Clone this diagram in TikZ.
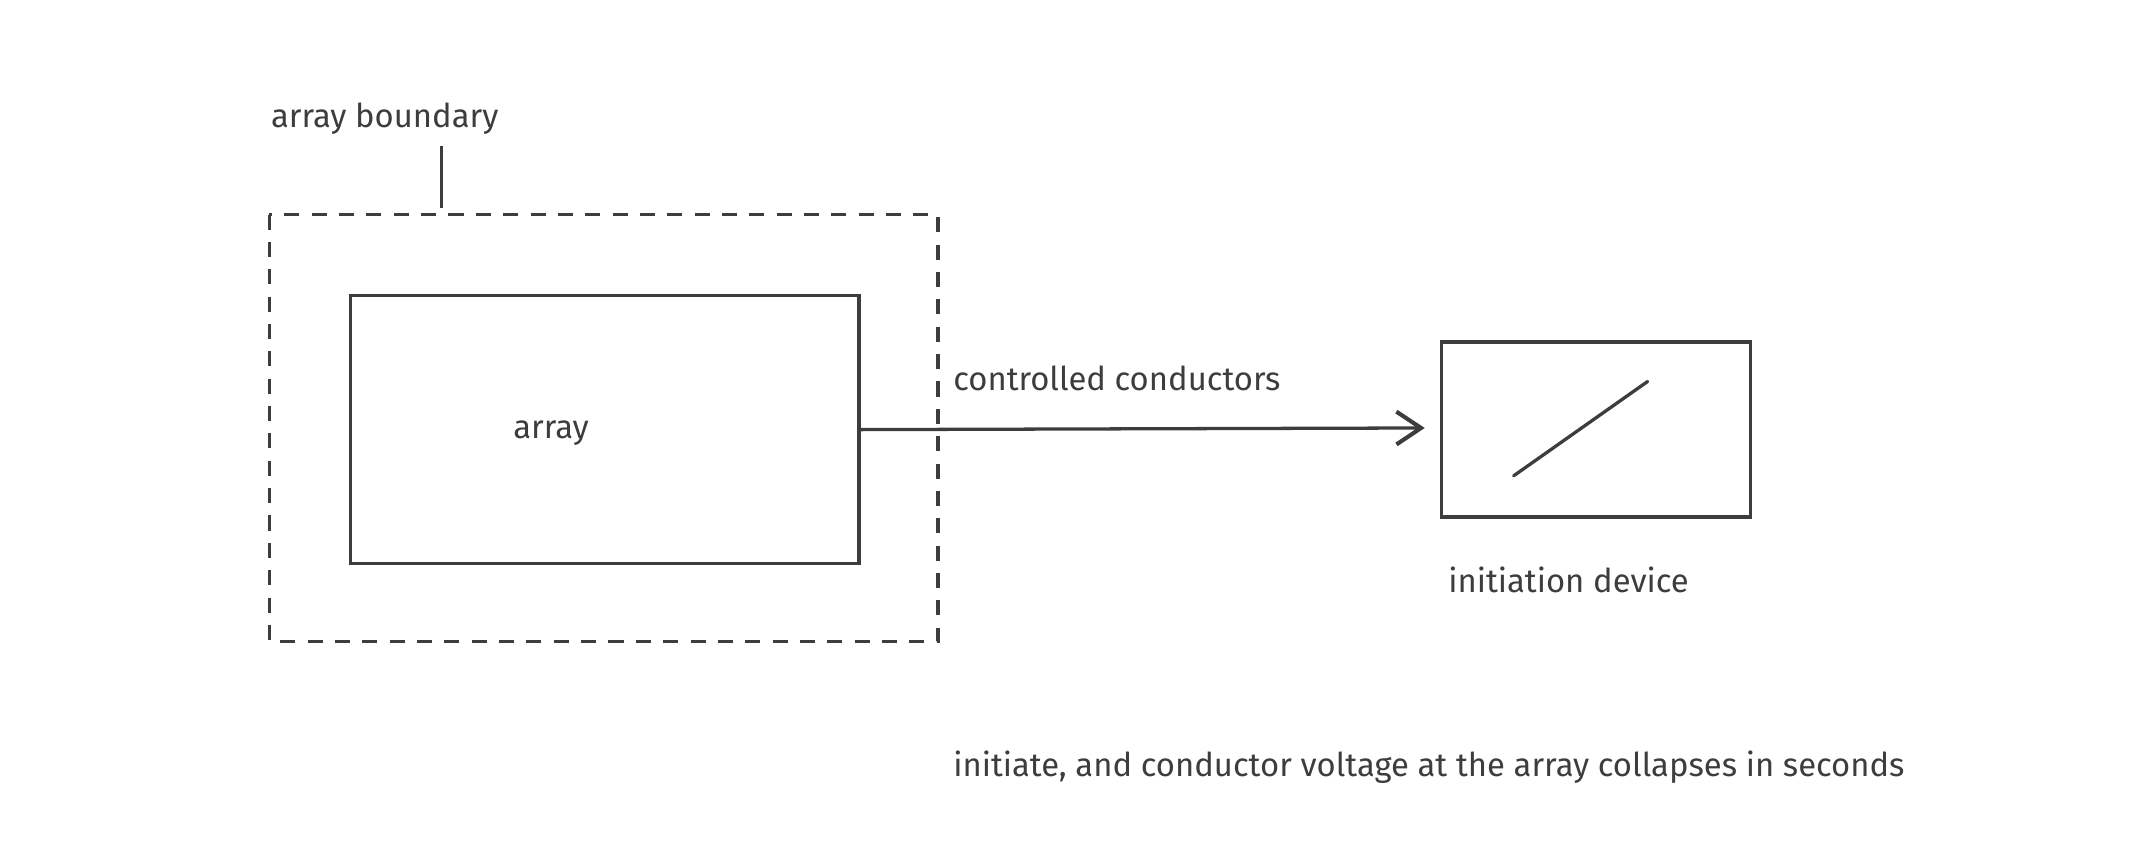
\documentclass[tikz,border=0pt]{standalone}
\usepackage{fontspec}
\setmainfont{Fira Sans}
\usetikzlibrary{arrows.meta}
\definecolor{ink}{HTML}{3D3D3F}
\begin{document}
\begin{tikzpicture}[x=1pt,y=-1pt,
  box/.style={draw=ink,line width=2.4pt},
  lbl/.style={text=ink,font=\fontsize{24}{28}\selectfont,inner sep=0pt},
  line width=2.4pt, ink]
\useasboundingbox (0,0) rectangle (1560,624);
\draw[box,dash pattern=on 11pt off 9pt] (197,157) rectangle (686,469);
\node[box,minimum width=372pt,minimum height=196pt,anchor=north west] (arr) at (255,215) {};
\node[lbl] at (403,317) {array};
\node[lbl,anchor=west] (ab) at (197,87) {array boundary};
\coordinate (t1) at (323,107); \coordinate (t2) at (323,152);
\draw[draw=ink] (t1) -- (t2);
\node[box,minimum width=226pt,minimum height=128pt,anchor=north west] (dev) at (1053,249) {};
\coordinate (end) at (1042,313);
\draw[draw=ink,-{Straight Barb[length=18pt,width=24pt,line width=3pt]}] (arr.east) -- (end);
\node[lbl,anchor=west] at (696,277) {controlled conductors};
\coordinate (d1) at (1107,348); \coordinate (d2) at (1205,279);
\draw[draw=ink,line cap=round] (d1) -- (d2);
\node[lbl,anchor=west] at (1058,424) {initiation device};
\node[lbl,anchor=west] at (696,561) {initiate, and conductor voltage at the array collapses in seconds};
\end{tikzpicture}
\end{document}
